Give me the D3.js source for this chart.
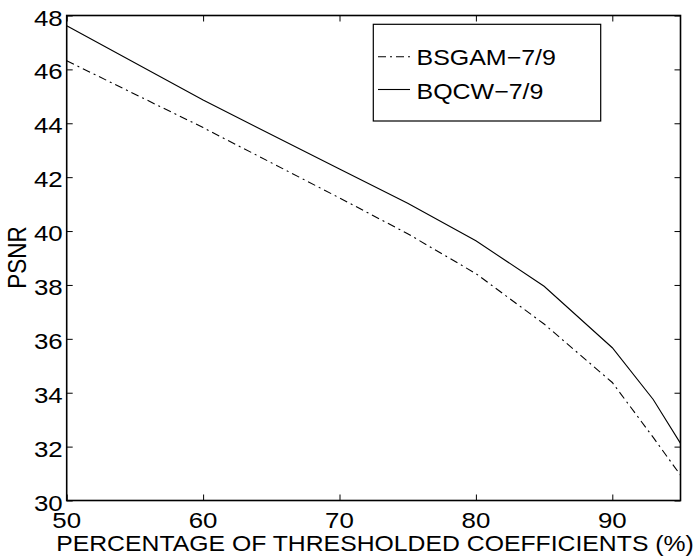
<!DOCTYPE html>
<html><head><meta charset="utf-8">
<script src="https://cdn.jsdelivr.net/npm/d3@7"></script>
<style>body{margin:0;background:#fff}svg{display:block}text{font-family:"Liberation Sans",Arial,sans-serif;fill:#000}</style>
</head><body>
<script>
const xValues = [50, 60, 70, 75, 80, 85, 90, 93, 95];
const bsgam = [46.32, 43.84, 41.23, 39.90, 38.42, 36.55, 34.38, 32.34, 30.94];
const bqcw  = [47.62, 44.86, 42.30, 41.03, 39.64, 37.95, 35.67, 33.75, 32.12];
const xTicks = [50, 60, 70, 80, 90];
const yTicks = [30, 32, 34, 36, 38, 40, 42, 44, 46, 48];
const seriesNames = ["BSGAM\u22127/9", "BQCW\u22127/9"];
const xLabel = "PERCENTAGE OF THRESHOLDED COEFFICIENTS (%)";
const yLabel = "PSNR";

const W = 696, H = 558;
const L = 66.7, R = 680.5, T = 15.5, B = 500.5;
const FS = 22.5, SX = 1.15;

const svg = d3.select("body").append("svg").attr("width", W).attr("height", H);
const x = d3.scaleLinear().domain([50, 95]).range([L, R]);
const y = d3.scaleLinear().domain([30, 48]).range([B, T]);

function txt(tx, ty, s, anchor, sx) {
  return svg.append("text").attr("transform", `translate(${tx},${ty}) scale(${sx || SX},1)`)
    .attr("text-anchor", anchor).style("font-size", FS + "px").text(s);
}
function fitTxt(tx, ty, s, anchor, targetW) {
  const t = svg.append("text").attr("text-anchor", anchor).style("font-size", FS + "px").text(s);
  const w = t.node().getComputedTextLength();
  t.attr("transform", `translate(${tx},${ty}) scale(${targetW / w},1)`);
  return t;
}

// axes with inward ticks
const gb = svg.append("g").attr("transform", `translate(0,${B})`)
  .call(d3.axisBottom(x).tickValues(xTicks).tickSizeInner(-6).tickSizeOuter(0).tickFormat(""));
const gt = svg.append("g").attr("transform", `translate(0,${T})`)
  .call(d3.axisTop(x).tickValues(xTicks).tickSizeInner(-6).tickSizeOuter(0).tickFormat(""));
const gl = svg.append("g").attr("transform", `translate(${L},0)`)
  .call(d3.axisLeft(y).tickValues(yTicks).tickSizeInner(-6).tickSizeOuter(0).tickFormat(""));
const gr = svg.append("g").attr("transform", `translate(${R},0)`)
  .call(d3.axisRight(y).tickValues(yTicks).tickSizeInner(-6).tickSizeOuter(0).tickFormat(""));
[gb, gt, gl, gr].forEach(g => {
  g.select(".domain").remove();
  g.selectAll(".tick line").attr("stroke", "#000").attr("stroke-width", 1);
});
svg.append("rect").attr("x", L).attr("y", T).attr("width", R - L).attr("height", B - T)
  .attr("fill", "none").attr("stroke", "#000").attr("stroke-width", 1.6);

// tick labels
xTicks.forEach(v => txt(x(v), B + 27, String(v), "middle"));
yTicks.forEach(v => txt(L - 4, y(v) + 10, String(v), "end"));

// lines
const line = d3.line().x((d, i) => x(xValues[i])).y(d => y(d));
svg.append("path").datum(bqcw).attr("d", line).attr("fill", "none").attr("stroke", "#000").attr("stroke-width", 1.1);
svg.append("path").datum(bsgam).attr("d", line).attr("fill", "none").attr("stroke", "#000").attr("stroke-width", 1.1)
  .attr("stroke-dasharray", "8,4,2,4");

// legend
svg.append("rect").attr("x", 373.3).attr("y", 24.3).attr("width", 227.4).attr("height", 96.7)
  .attr("fill", "#fff").attr("stroke", "#000").attr("stroke-width", 1.2);
svg.append("line").attr("x1", 378).attr("x2", 410).attr("y1", 56.7).attr("y2", 56.7)
  .attr("stroke", "#000").attr("stroke-width", 1.1).attr("stroke-dasharray", "8,4,2,4");
svg.append("line").attr("x1", 378).attr("x2", 410).attr("y1", 89.5).attr("y2", 89.5)
  .attr("stroke", "#000").attr("stroke-width", 1.1);
const lt = fitTxt(416.5, 65, seriesNames[0], "start", 139.5);
const lsx = lt.attr("transform").match(/scale\(([^,]+)/)[1];
txt(416.5, 99, seriesNames[1], "start", lsx);

// axis labels
fitTxt(375, 551, xLabel, "middle", 638);
svg.append("text").attr("transform", `translate(26,257.5) rotate(-90) scale(1,${SX})`)
  .attr("text-anchor", "middle").style("font-size", FS + "px").text(yLabel);
</script>
</body></html>
